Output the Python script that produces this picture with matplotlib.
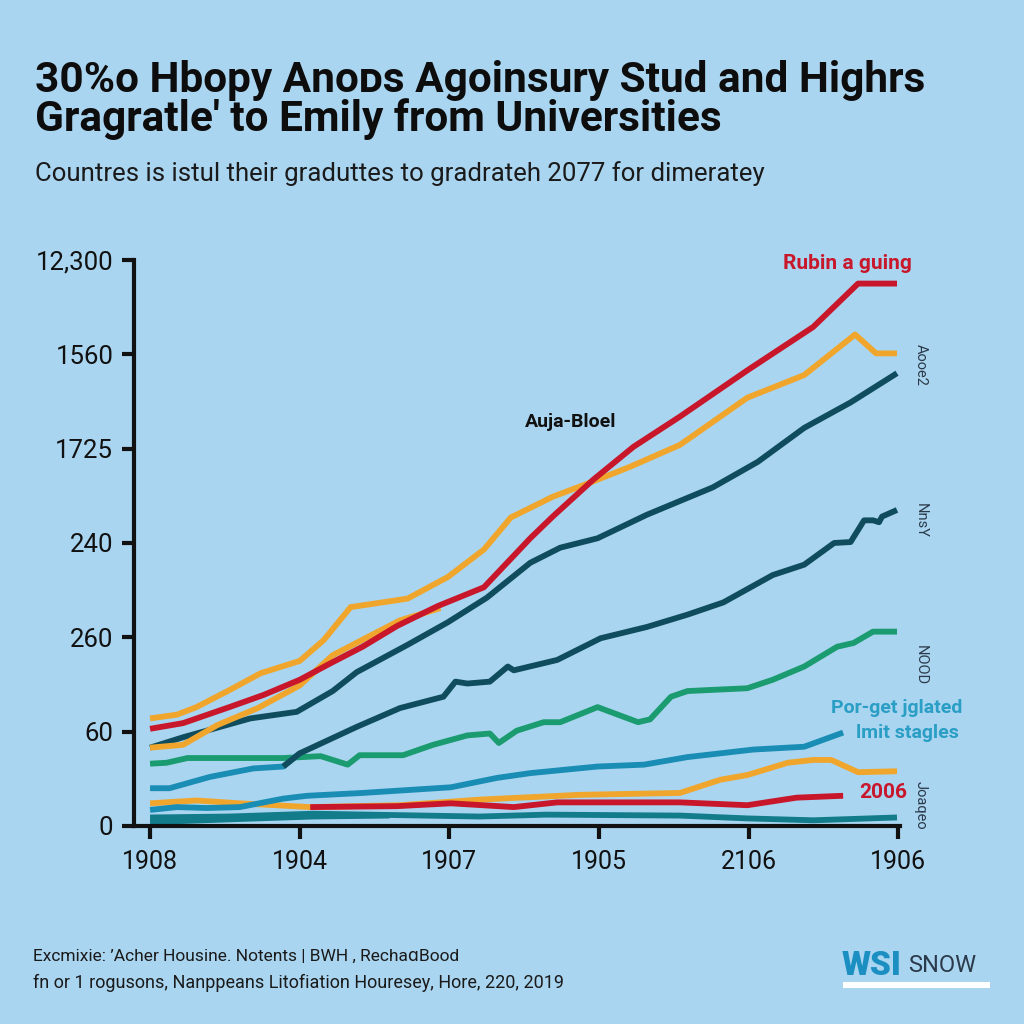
import matplotlib
matplotlib.use("Agg")
import matplotlib.pyplot as plt
from matplotlib import font_manager

# fonts: a narrow face if there is one, else Roboto
names = {f.name for f in font_manager.fontManager.ttflist}
narrow = "Liberation Sans Narrow" if "Liberation Sans Narrow" in names else "Roboto"
plt.rcParams['font.family'] = ['Roboto', 'DejaVu Sans']

bg = "#aad5f0"
red = "#c8172b"
yellow = "#f0a62c"
dark = "#0f4d5e"
green = "#1b9c70"
blue = "#1a8db5"
teal = "#137c8a"

# axis labels
x_labels = ["1908", "1904", "1907", "1905", "2106", "1906"]
y_labels = ["0", "60", "260", "240", "1725", "1560", "12,300"]

# series (x in tick steps, y in tick steps)
red_top_x = [0, 0.22, 0.53, 0.76, 1.00, 1.20, 1.42, 1.65, 1.92, 2.23, 2.54, 2.69, 2.96, 3.23, 3.54, 3.99, 4.43, 4.73, 4.99]
red_top_y = [1.03, 1.09, 1.26, 1.39, 1.55, 1.72, 1.90, 2.12, 2.33, 2.53, 3.05, 3.28, 3.67, 4.02, 4.34, 4.83, 5.29, 5.75, 5.75]

yel_top_x = [0, 0.18, 0.31, 0.53, 0.74, 1.00, 1.16, 1.34, 1.72, 1.99, 2.23, 2.41, 2.69, 2.94, 3.21, 3.54, 3.99, 4.37, 4.71, 4.85, 4.99]
yel_top_y = [1.14, 1.18, 1.26, 1.44, 1.62, 1.75, 1.97, 2.32, 2.41, 2.64, 2.93, 3.27, 3.49, 3.64, 3.81, 4.04, 4.54, 4.78, 5.21, 5.01, 5.01]

yel_mid_x = [0, 0.22, 0.45, 0.72, 1.00, 1.22, 1.45, 1.67, 1.94]
yel_mid_y = [0.83, 0.86, 1.07, 1.25, 1.49, 1.81, 2.00, 2.18, 2.31]

dark_top_x = [0, 0.22, 0.40, 0.67, 0.98, 1.22, 1.38, 1.72, 1.99, 2.25, 2.54, 2.74, 2.99, 3.32, 3.76, 4.06, 4.37, 4.68, 4.99]
dark_top_y = [0.83, 0.94, 1.02, 1.14, 1.21, 1.43, 1.63, 1.92, 2.16, 2.42, 2.79, 2.95, 3.05, 3.30, 3.59, 3.86, 4.22, 4.49, 4.80]

dark_mid_x = [0.89, 1.00, 1.38, 1.67, 1.96, 2.04, 2.12, 2.27, 2.39, 2.43, 2.72, 3.01, 3.32, 3.59, 3.83, 4.16, 4.37, 4.57, 4.68, 4.77, 4.83, 4.87, 4.89, 4.99]
dark_mid_y = [0.63, 0.77, 1.05, 1.25, 1.37, 1.53, 1.51, 1.53, 1.69, 1.65, 1.76, 1.99, 2.11, 2.24, 2.37, 2.66, 2.77, 3.00, 3.01, 3.24, 3.24, 3.22, 3.28, 3.35]

blue_low_x = [0, 0.13, 0.40, 0.69, 0.89, 1.00]
blue_low_y = [0.40, 0.40, 0.52, 0.61, 0.63, 0.77]

green_x = [0, 0.11, 0.25, 0.89, 1.14, 1.32, 1.40, 1.69, 1.89, 2.12, 2.27, 2.33, 2.45, 2.63, 2.74, 2.99, 3.26, 3.34, 3.48, 3.59, 3.99, 4.16, 4.37, 4.59, 4.70, 4.83, 4.99]
green_y = [0.66, 0.67, 0.72, 0.72, 0.74, 0.65, 0.75, 0.75, 0.86, 0.96, 0.98, 0.88, 1.01, 1.10, 1.10, 1.26, 1.10, 1.13, 1.37, 1.43, 1.46, 1.55, 1.69, 1.90, 1.94, 2.06, 2.06]

blue_x = [0, 0.18, 0.38, 0.60, 0.89, 1.05, 1.42, 2.01, 2.32, 2.54, 2.99, 3.30, 3.59, 4.03, 4.37, 4.63]
blue_y = [0.17, 0.20, 0.19, 0.20, 0.29, 0.32, 0.35, 0.41, 0.51, 0.56, 0.63, 0.65, 0.73, 0.81, 0.84, 0.99]

yel_low_x = [0, 0.31, 0.60, 1.07, 1.67, 2.21, 2.87, 3.54, 3.81, 3.99, 4.26, 4.43, 4.55, 4.73, 4.99]
yel_low_y = [0.24, 0.27, 0.24, 0.20, 0.22, 0.28, 0.33, 0.35, 0.49, 0.54, 0.67, 0.70, 0.70, 0.57, 0.58]

red_low_x = [1.07, 1.65, 2.01, 2.43, 2.72, 3.54, 3.99, 4.32, 4.63]
red_low_y = [0.20, 0.21, 0.24, 0.20, 0.25, 0.25, 0.22, 0.30, 0.32]

teal_x = [0, 0.53, 1.09, 2.20, 2.65, 3.54, 3.99, 4.43, 4.99]
teal_y = [0.09, 0.10, 0.13, 0.10, 0.12, 0.11, 0.08, 0.06, 0.09]

teal_short_x = [0, 0.53, 1.09, 1.60]
teal_short_y = [0.04, 0.07, 0.10, 0.11]

fig = plt.figure(figsize=(10.24, 10.24), dpi=100, facecolor=bg)
ax = fig.add_axes([0.1309, 0.1934, 0.748, 0.5527])
ax.set_facecolor(bg)

lw = 4.2
kw = dict(lw=lw, solid_capstyle='butt', solid_joinstyle='round', clip_on=False)
ax.plot(teal_short_x, teal_short_y, color=teal, **kw)
ax.plot(teal_x, teal_y, color=teal, **kw)
ax.plot(yel_low_x, yel_low_y, color=yellow, **kw)
ax.plot(red_low_x, red_low_y, color=red, **kw)
ax.plot(blue_x, blue_y, color=blue, **kw)
ax.plot(green_x, green_y, color=green, **kw)
ax.plot(blue_low_x, blue_low_y, color=blue, **kw)
ax.plot(dark_mid_x, dark_mid_y, color=dark, **kw)
ax.plot(dark_top_x, dark_top_y, color=dark, **kw)
ax.plot(yel_mid_x, yel_mid_y, color=yellow, **kw)
ax.plot(yel_top_x, yel_top_y, color=yellow, **kw)
ax.plot(red_top_x, red_top_y, color=red, **kw)

ax.set_xlim(-0.107, 5.01)
ax.set_ylim(0, 6.0)
ax.set_xticks(range(len(x_labels)))
ax.set_xticklabels(x_labels, fontsize=18)
ax.set_yticks(range(len(y_labels)))
ax.set_yticklabels(y_labels, fontsize=18.5)
ax.tick_params(axis='both', length=9, width=3, color='#111111', labelcolor='#111111', pad=6)
ax.tick_params(axis='x', pad=8)
for side in ['top', 'right']:
    ax.spines[side].set_visible(False)
for side in ['left', 'bottom']:
    ax.spines[side].set_linewidth(3)
    ax.spines[side].set_color('#111111')

# labels on the lines
ax.text(4.66, 5.96, "Rubin a guing", color=red, fontsize=15, fontweight='bold', ha='center', va='center')
ax.text(2.81, 4.28, "Auja-Bloel", color='#111111', fontsize=14, fontweight='bold', ha='center', va='center')
ax.text(4.99, 1.25, "Por-get jglated", color="#2a9ec4", fontsize=14, fontweight='bold', ha='center', va='center')
ax.text(5.06, 0.99, "lmit stagles", color="#2a9ec4", fontsize=14, fontweight='bold', ha='center', va='center')
ax.text(4.90, 0.35, "2006", color=red, fontsize=15, fontweight='bold', ha='center', va='center')
for label, y in [("Aooe2", 4.89), ("NnsY", 3.24), ("NOOD", 1.71), ("Joaqeo", 0.22)]:
    ax.text(5.15, y, label, color='#2b3a4a', fontsize=10.5, rotation=270, ha='center', va='center', clip_on=False)

# title, subtitle, footer
fig.text(0.034, 0.910, "30%o Hbopy Anoᴅs Agoinsury Stud and Highrs", fontsize=30.5, fontweight='bold',
         family=[narrow, 'DejaVu Sans'], color='#0d0d0d', va='baseline')
fig.text(0.034, 0.872, "Gragratle\u2032 to Emily from Universities", fontsize=30.5, fontweight='bold',
         family=[narrow, 'DejaVu Sans'], color='#0d0d0d', va='baseline')
fig.text(0.034, 0.823, "Countres is istul their graduttes to gradrateh 2077 for dimeratey", fontsize=18.5,
         family=[narrow, 'DejaVu Sans'], color='#1a1a1a', va='baseline')
fig.text(0.032, 0.066, "Excmixie: \u2019Acher Housine. Notents | BWH , RechaɑBood", fontsize=12.5,
         family=[narrow, 'DejaVu Sans'], color='#1a1a1a', va='center')
fig.text(0.032, 0.040, "fn or 1 rogusons, Nanppeans Litofiation Houresey, Hore, 220, 2019", fontsize=13,
         family=[narrow, 'DejaVu Sans'], color='#1a1a1a', va='center')

# logo
fig.text(0.822, 0.057, "WSI", fontsize=24, fontweight='heavy', color="#1c8fc2", va='center')
fig.text(0.887, 0.057, "SNOW", fontsize=17, color="#2b3a4a", va='center', family=[narrow, 'DejaVu Sans'])
fig.patches.append(plt.Rectangle((0.823, 0.035), 0.144, 0.006, transform=fig.transFigure,
                                 facecolor='white', edgecolor='none'))

fig.savefig("out.png", dpi=100, facecolor=bg)
